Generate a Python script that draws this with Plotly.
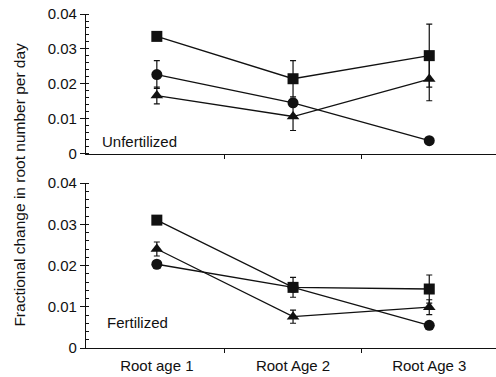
import plotly.graph_objects as go

categories = ["Root age 1", "Root Age 2", "Root Age 3"]
xpos = [0, 1, 2]

# Unfertilized panel
unf_square = [0.0336, 0.0215, 0.0281]
unf_square_err = [0.0, 0.0052, 0.0090]
unf_circle = [0.0227, 0.0146, 0.0038]
unf_circle_err = [0.0040, 0.0, 0.0]
unf_triangle = [0.0167, 0.0107, 0.0214]
unf_triangle_err = [0.0024, 0.0040, 0.0062]

# Fertilized panel
fer_square = [0.0310, 0.0147, 0.0143]
fer_square_err = [0.0, 0.0024, 0.0034]
fer_circle = [0.0203, 0.0147, 0.0055]
fer_circle_err = [0.0, 0.0, 0.0]
fer_triangle = [0.0240, 0.0076, 0.0099]
fer_triangle_err = [0.0017, 0.0016, 0.0018]

ytickvals = [0, 0.01, 0.02, 0.03, 0.04]
yticktext = ["0", "0.01", "0.02", "0.03", "0.04"]

FONT = "Liberation Sans, Arial, sans-serif"
INK = "#111111"

fig = go.Figure()

def add(y, err, symbol, xa, ya, size):
    fig.add_trace(go.Scatter(
        x=xpos, y=y, xaxis=xa, yaxis=ya, mode="lines+markers",
        line=dict(color=INK, width=1.3),
        marker=dict(symbol=symbol, size=size, color=INK),
        error_y=dict(type="data", array=err, visible=True, color=INK, thickness=1.2, width=3),
        showlegend=False, cliponaxis=False,
    ))

add(unf_square, unf_square_err, "square", "x", "y", 11)
add(unf_circle, unf_circle_err, "circle", "x", "y", 11)
add(unf_triangle, unf_triangle_err, "triangle-up", "x", "y", 11)
add(fer_square, fer_square_err, "square", "x2", "y2", 11)
add(fer_circle, fer_circle_err, "circle", "x2", "y2", 11)
add(fer_triangle, fer_triangle_err, "triangle-up", "x2", "y2", 11)

xcommon = dict(
    range=[-0.52, 2.49], showgrid=False, zeroline=False,
    showline=True, linecolor=INK, linewidth=1.3,
    tickmode="array", ticks="", ticklabelstandoff=4,
    minor=dict(tickmode="array", tickvals=[0.5, 1.5], ticks="outside", ticklen=4, tickcolor=INK, tickwidth=1.2),
    tickfont=dict(family=FONT, size=15, color=INK),
)
ycommon = dict(
    range=[0, 0.04], showgrid=False, zeroline=False,
    showline=True, linecolor=INK, linewidth=1.3,
    tickmode="array", tickvals=ytickvals, ticktext=yticktext,
    ticks="outside", ticklen=5, tickcolor=INK, tickwidth=1.2,
    minor=dict(dtick=0.002, ticks="inside", ticklen=3, tickcolor=INK, tickwidth=1),
    tickfont=dict(family=FONT, size=15, color=INK),
)

fig.update_layout(
    width=496, height=377,
    margin=dict(l=86, r=0, t=14, b=29),
    paper_bgcolor="white", plot_bgcolor="white",
    xaxis=dict(xcommon, domain=[0, 1], anchor="y", tickvals=xpos, ticktext=["", "", ""]),
    yaxis=dict(ycommon, domain=[0.581, 1.0], anchor="x"),
    xaxis2=dict(xcommon, domain=[0, 1], anchor="y2", tickvals=xpos, ticktext=categories),
    yaxis2=dict(ycommon, domain=[0.0, 0.494], anchor="x2"),
    annotations=[
        dict(text="Fractional change in root number per day", textangle=-90,
             xref="paper", yref="paper", x=-0.19, y=0.488, showarrow=False,
             font=dict(family=FONT, size=15.5, color=INK)),
        dict(text="Unfertilized", xref="x", yref="y", x=-0.42, y=0.0035,
             xanchor="left", yanchor="middle", showarrow=False,
             font=dict(family=FONT, size=15, color=INK)),
        dict(text="Fertilized", xref="x2", yref="y2", x=-0.38, y=0.0063,
             xanchor="left", yanchor="middle", showarrow=False,
             font=dict(family=FONT, size=15, color=INK)),
    ],
)

fig.write_html("out.html")
